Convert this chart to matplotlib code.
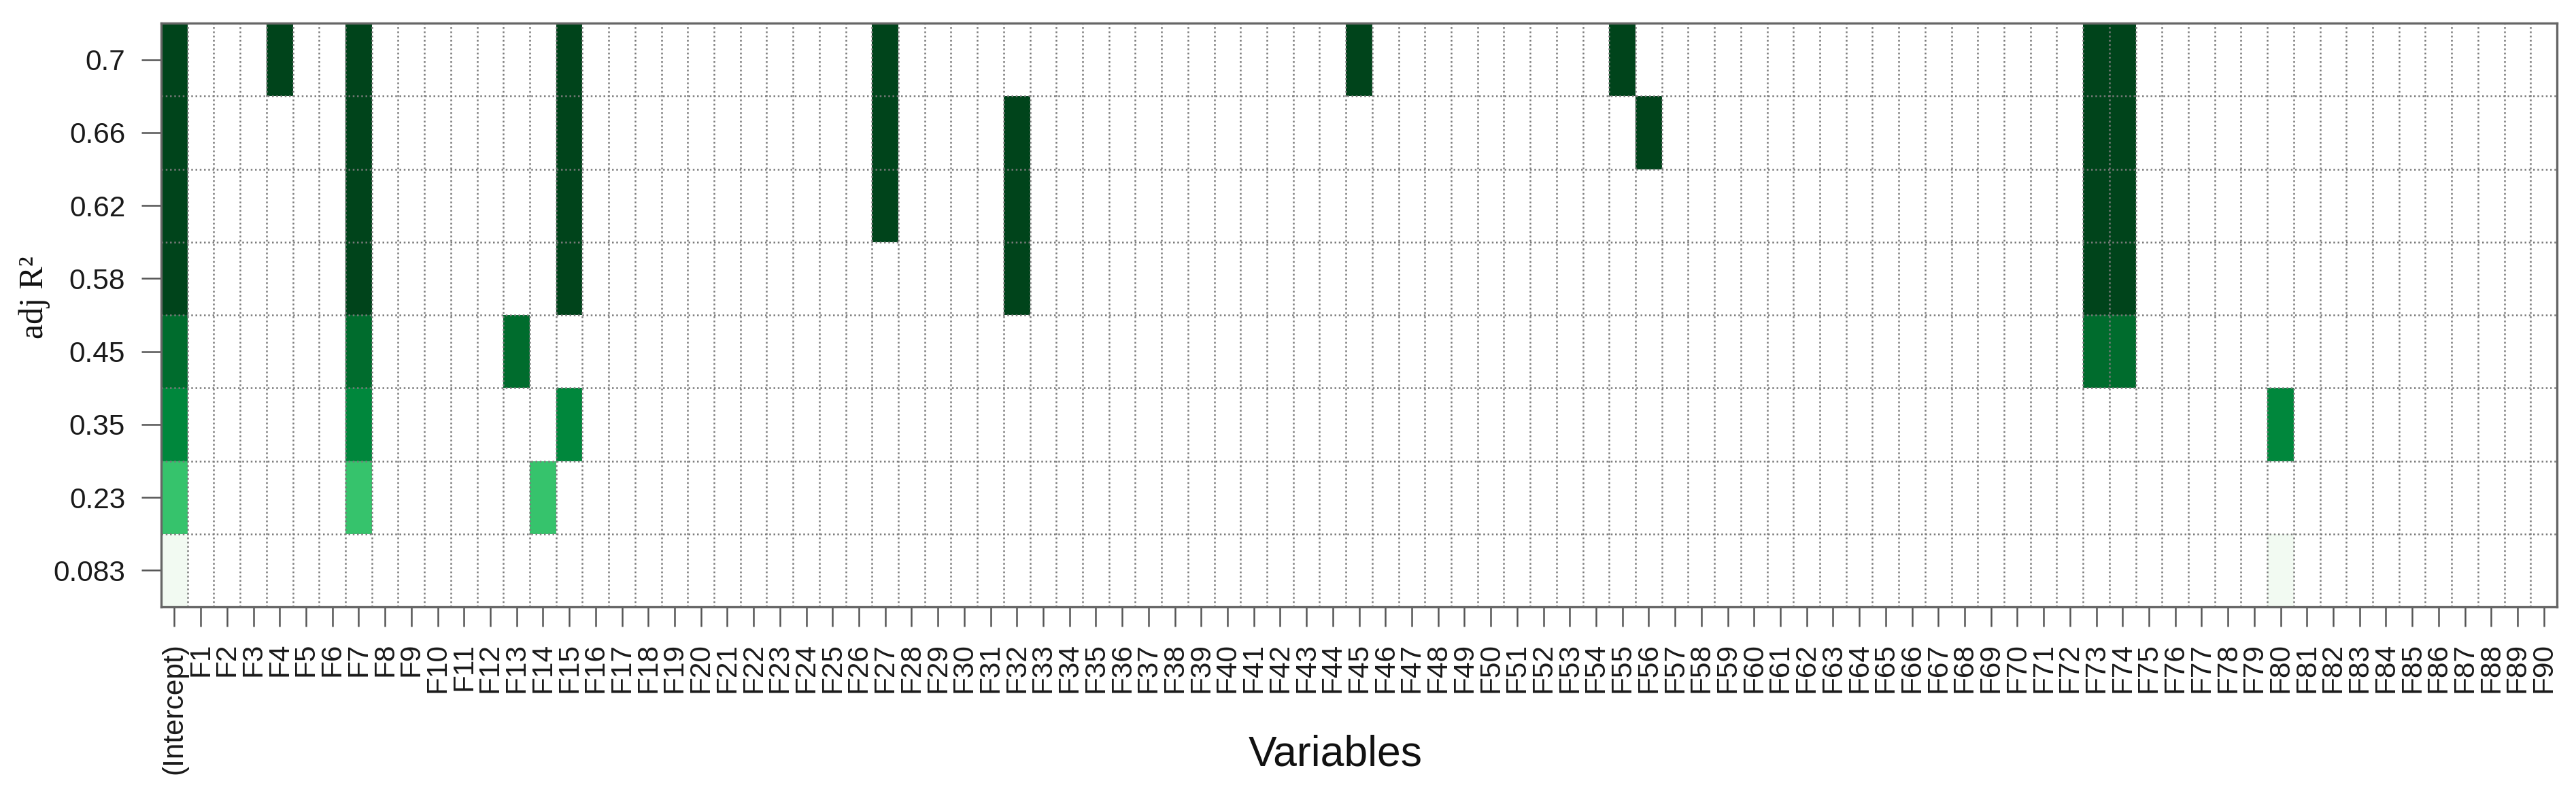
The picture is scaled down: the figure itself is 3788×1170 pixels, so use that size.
import numpy as np
import matplotlib
matplotlib.use("Agg")
import matplotlib.pyplot as plt
from matplotlib.colors import ListedColormap

# ---- data ----
variables = ["(Intercept)"] + [f"F{i}" for i in range(1, 91)]
adjr2_labels = ["0.083", "0.23", "0.35", "0.45", "0.58", "0.62", "0.66", "0.7"]  # bottom -> top

model_083 = ["(Intercept)", "F80"]
model_023 = ["(Intercept)", "F7", "F14"]
model_035 = ["(Intercept)", "F7", "F15", "F80"]
model_045 = ["(Intercept)", "F7", "F13", "F73", "F74"]
model_058 = ["(Intercept)", "F7", "F15", "F32", "F73", "F74"]
model_062 = ["(Intercept)", "F7", "F15", "F27", "F32", "F73", "F74"]
model_066 = ["(Intercept)", "F7", "F15", "F27", "F32", "F56", "F73", "F74"]
model_070 = ["(Intercept)", "F4", "F7", "F15", "F27", "F45", "F55", "F73", "F74"]
models = [model_083, model_023, model_035, model_045, model_058, model_062, model_066, model_070]

row_colors = ["#f2faf2", "#36c36c", "#00873c", "#006c2d", "#00441b", "#00441b", "#00441b", "#00441b"]

# ---- matrix ----
nrow, ncol = len(models), len(variables)
Z = np.full((nrow, ncol), np.nan)
for r, m in enumerate(models):
    for v in m:
        Z[r, variables.index(v)] = r

W, H, DPI = 3788, 1170, 100
fig = plt.figure(figsize=(W / DPI, H / DPI), dpi=DPI)
left, right, top, bottom = 237, 3760, 34, 892
ax = fig.add_axes([left / W, 1 - bottom / H, (right - left) / W, (bottom - top) / H])

cmap = ListedColormap(row_colors)
cmap.set_bad("white")
ax.pcolormesh(np.arange(ncol + 1), np.arange(nrow + 1), np.ma.masked_invalid(Z),
              cmap=cmap, vmin=-0.5, vmax=nrow - 0.5, shading="flat", zorder=1)

# dotted grid at cell boundaries
grid_kw = dict(colors="#7a7a7a", linestyles=(0, (1.0, 1.5)), linewidths=1.8, zorder=2)
ax.vlines(np.arange(1, ncol), 0, nrow, **grid_kw)
ax.hlines(np.arange(1, nrow), 0, ncol, **grid_kw)

ax.set_xlim(0, ncol)
ax.set_ylim(0, nrow)

font = "Liberation Sans"
ax.set_xticks(np.arange(ncol) + 0.5)
ax.set_xticklabels(variables, rotation=90, fontsize=30.5, family=font, color="#1a1a1a")
ax.set_yticks(np.arange(nrow) + 0.5)
ax.set_yticklabels(adjr2_labels, fontsize=30.5, family=font, color="#1a1a1a")
ax.tick_params(axis="both", length=21, width=1.8, color="#555555", pad=17)

for s in ax.spines.values():
    s.set_color("#666666")
    s.set_linewidth(2.4)
    s.set_zorder(3)

fig.text(1964 / W, 1 - 1109 / H, "Variables", ha="center", va="center",
         fontsize=45, family=font, color="#111111")
fig.text(51 / W, 1 - 437 / H, "adj R\u00b2", ha="center", va="center", rotation=90,
         fontsize=36, family="Liberation Serif", color="#111111")

fig.savefig("out.png", dpi=DPI, facecolor="white")
